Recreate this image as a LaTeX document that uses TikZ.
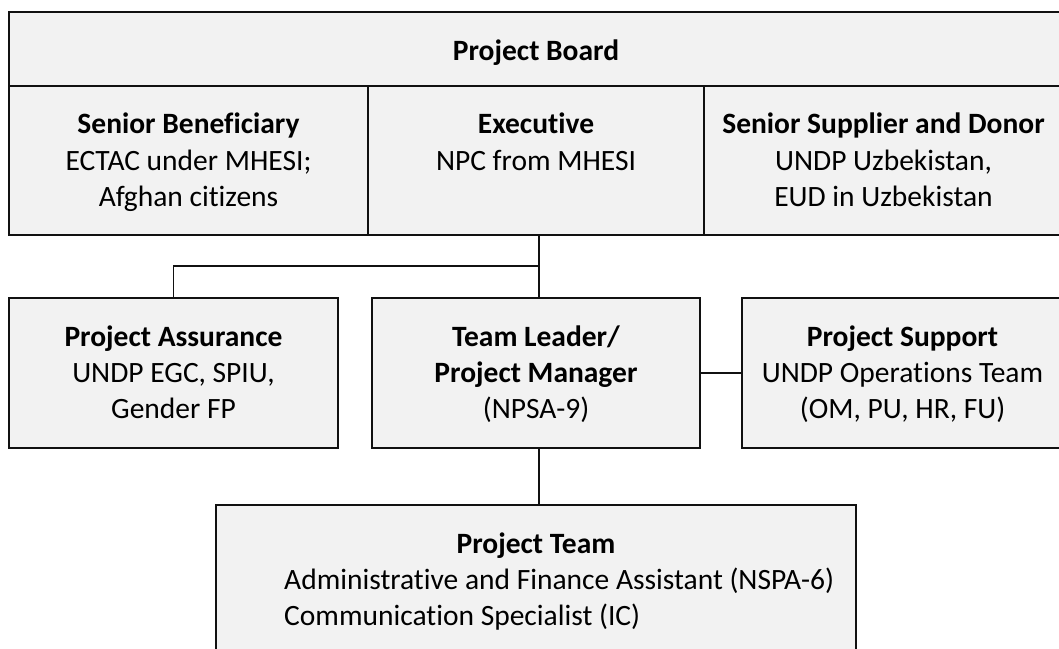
\documentclass[tikz,border=0pt]{standalone}
\usepackage{fontspec}
\setmainfont[Ligatures=NoCommon]{Carlito}
\definecolor{cellfill}{HTML}{F2F2F2}
\definecolor{linecol}{HTML}{111111}
\begin{document}
\begin{tikzpicture}[x=1pt,y=-1pt,
  cell/.style={draw=linecol,fill=cellfill,line width=1.8pt,rectangle,inner sep=0pt,outer sep=0pt,anchor=north west},
  wire/.style={draw=linecol,line width=1.8pt},
  txt/.style={anchor=base,inner sep=0pt,font=\fontsize{29.5}{36}\selectfont},
  hd/.style={txt,font=\fontsize{29.5}{36}\selectfont\bfseries},
  ltxt/.style={txt,anchor=base west}]
\useasboundingbox (0,0) rectangle (1059,648);
\clip (0,0) rectangle (1059,648);

% Project board
\node[cell,minimum width=1054pt,minimum height=74pt] (board) at (9,12) {};
\node[cell,minimum width=359pt,minimum height=149pt] (sb) at (9,86) {};
\node[cell,minimum width=336pt,minimum height=149pt] (ex) at (368,86) {};
\node[cell,minimum width=359pt,minimum height=149pt] (ss) at (704,86) {};

% Middle row
\node[cell,minimum width=329pt,minimum height=150pt] (pa) at (9,298) {};
\node[cell,minimum width=328pt,minimum height=150pt] (tl) at (372,298) {};
\node[cell,minimum width=321pt,minimum height=150pt] (ps) at (742,298) {};

% Project team
\node[cell,minimum width=640pt,minimum height=200pt] (pt) at (216,505) {};

% Connectors
\coordinate (j) at (539,266);
\draw[wire] (j |- ex.south) -- (j |- tl.north);
\draw[wire] (j) -| (pa.north);
\draw[wire] (tl.east) -- (ps.west);
\draw[wire] (j |- tl.south) -- (j |- pt.north);

% Texts
\node[hd] (t-board) at (536,60) {Project Board};

\node[hd]  (t-sb1) at (188.5,133) {Senior Beneficiary};
\node[txt] (t-sb2) at (188.5,170) {ECTAC under MHESI;};
\node[txt] (t-sb3) at (188.5,206) {Afghan citizens};

\node[hd]  (t-ex1) at (536,133) {Executive};
\node[txt] (t-ex2) at (536,170) {NPC from MHESI};

\node[hd]  (t-ss1) at (883.5,133) {Senior Supplier and Donor};
\node[txt] (t-ss2) at (883.5,170) {UNDP Uzbekistan,};
\node[txt] (t-ss3) at (883.5,206) {EUD in Uzbekistan};

\node[hd]  (t-pa1) at (173.5,346) {Project Assurance};
\node[txt] (t-pa2) at (173.5,382) {UNDP EGC, SPIU,};
\node[txt] (t-pa3) at (173.5,418) {Gender FP};

\node[hd]  (t-tl1) at (536,346) {Team Leader/};
\node[hd]  (t-tl2) at (536,382) {Project Manager};
\node[txt] (t-tl3) at (536,418) {(NPSA-9)};

\node[hd]  (t-ps1) at (902.5,346) {Project Support};
\node[txt] (t-ps2) at (902.5,382) {UNDP Operations Team};
\node[txt] (t-ps3) at (902.5,418) {(OM, PU, HR, FU)};

\node[hd]   (t-pt1) at (536,553) {Project Team};
\node[ltxt] (t-pt2) at (284,589) {Administrative and Finance Assistant (NSPA-6)};
\node[ltxt] (t-pt3) at (284,625) {Communication Specialist (IC)};
\end{tikzpicture}
\end{document}
